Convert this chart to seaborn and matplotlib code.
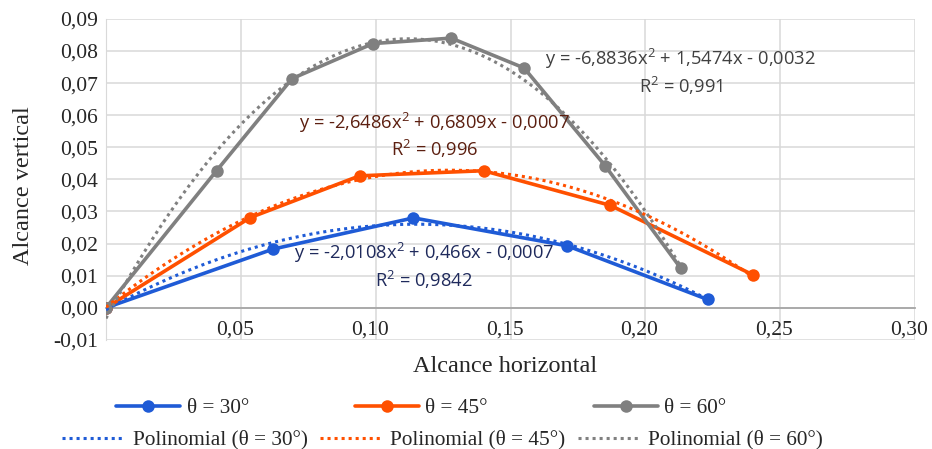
import numpy as np
import pandas as pd
import matplotlib
matplotlib.use("Agg")
import matplotlib.pyplot as plt
import seaborn as sns
from matplotlib.lines import Line2D
from matplotlib.transforms import ScaledTranslation

# data
x30 = [0.0, 0.062, 0.114, 0.171, 0.223]
y30 = [0.0, 0.0183, 0.0280, 0.0193, 0.0026]

x45 = [0.0, 0.0535, 0.094, 0.140, 0.187, 0.240]
y45 = [0.0, 0.0281, 0.0411, 0.0427, 0.0319, 0.0102]

x60 = [0.0, 0.041, 0.069, 0.099, 0.128, 0.155, 0.185, 0.213]
y60 = [0.0, 0.0427, 0.0714, 0.0823, 0.0840, 0.0747, 0.0443, 0.0124]

labels = ["θ = 30°", "θ = 45°", "θ = 60°"]
colors = ["#1F5BD6", "#FF5000", "#808080"]
eq_texts = ["y = -2,0108x$^2$ + 0,466x - 0,0007\nR$^2$ = 0,9842",
            "y = -2,6486x$^2$ + 0,6809x - 0,0007\nR$^2$ = 0,996",
            "y = -6,8836x$^2$ + 1,5474x - 0,0032\nR$^2$ = 0,991"]
eq_colors = ["#1F2A5C", "#5C1F10", "#404040"]

xticks = [0.05, 0.10, 0.15, 0.20, 0.25, 0.30]
yticks = [-0.01, 0.0, 0.01, 0.02, 0.03, 0.04, 0.05, 0.06, 0.07, 0.08, 0.09]

sns.set_style("white")
plt.rcParams["font.family"] = ["Liberation Serif", "DejaVu Serif"]
plt.rcParams["mathtext.fontset"] = "custom"
plt.rcParams["mathtext.rm"] = "Open Sans"

fig = plt.figure(figsize=(9.32, 4.49), dpi=100)
ax = fig.add_axes([0.1137, 0.243, 0.982 - 0.1137, 0.958 - 0.243])

series = [(x30, y30), (x45, y45), (x60, y60)]

for (xs, ys), lab, c in zip(series, labels, colors):
    sns.lineplot(x=xs, y=ys, ax=ax, color=c, linewidth=2.6, marker="o",
                 markersize=9, markeredgewidth=0, sort=False, zorder=3)

for (xs, ys), c in zip(series, colors):
    sns.regplot(x=np.array(xs), y=np.array(ys), ax=ax, order=2, ci=None,
                scatter=False, truncate=True,
                line_kws=dict(color=c, linestyle=(0, (1, 1.3)), linewidth=2.2,
                              zorder=4))

# axis crosses at y = 0 (set before tick styling, it resets ticks)
for s in ["top", "right"]:
    ax.spines[s].set_visible(False)
ax.spines["bottom"].set_position(("data", 0))
ax.spines["bottom"].set_color("#A6A6A6")
ax.spines["bottom"].set_linewidth(1.3)
ax.spines["left"].set_color("#D9D9D9")

ax.set_xlim(0, 0.30)
ax.set_ylim(-0.01, 0.09)
ax.set_xticks(xticks)
ax.set_yticks(yticks)
ax.set_xticklabels([f"{t:.2f}".replace(".", ",") for t in xticks])
ax.set_yticklabels([f"{t:.2f}".replace(".", ",") for t in yticks])
ax.tick_params(length=0, labelsize=15.5)
ax.tick_params(axis="y", pad=6)
ax.tick_params(axis="x", pad=9)
for lbl in ax.get_xticklabels():
    lbl.set_transform(lbl.get_transform() + ScaledTranslation(-0.06, 0, fig.dpi_scale_trans))

ax.grid(True, color="#D9D9D9", linewidth=1.1)
ax.set_axisbelow(True)

ax.set_xlabel("")
ax.set_ylabel("")
fig.text(0.025, 1 - 186 / 449, "Alcance vertical", rotation=90, ha="center",
         va="center", fontsize=17.5)
fig.text(0.542, 1 - 367 / 449, "Alcance horizontal", ha="center", va="center",
         fontsize=17.5)

# trendline labels
eq_pos = [(0.118, 0.0131), (0.1219, 0.0537), (0.213, 0.0734)]
for txt, (ex, ey), c in zip(eq_texts, eq_pos, eq_colors):
    ax.text(ex, ey, txt, color=c, ha="center", va="center", fontsize=13.2,
            family="Open Sans", linespacing=1.2, zorder=5)

h1 = [Line2D([], [], color=c, linewidth=2.6, marker="o", markersize=9,
             markeredgewidth=0) for c in colors]
h2 = [Line2D([], [], color=c, linestyle=(0, (1, 1.3)), linewidth=2.2)
      for c in colors]

leg1 = fig.legend(h1, labels, loc="center", bbox_to_anchor=(0.452, 1 - 408 / 449),
                  ncol=3, frameon=False, fontsize=15.3, handlelength=3.0,
                  handletextpad=0.3, columnspacing=5.0)
leg2 = fig.legend(h2, ["Polinomial (" + l + ")" for l in labels], loc="center",
                  bbox_to_anchor=(0.475, 1 - 440 / 449), ncol=3, frameon=False,
                  fontsize=15.3, handlelength=2.9, handletextpad=0.4,
                  columnspacing=0.6)

fig.savefig("out.png", dpi=100)
